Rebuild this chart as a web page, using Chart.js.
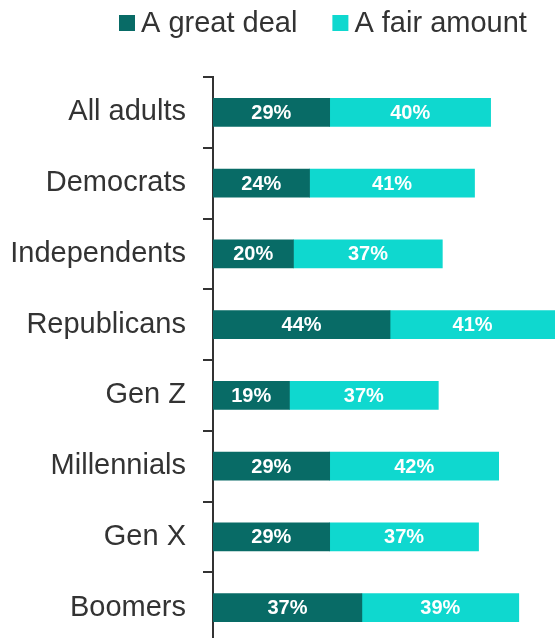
<!DOCTYPE html>
<html>
<head>
<meta charset="utf-8">
<script src="https://cdn.jsdelivr.net/npm/chart.js@4"></script>
<style>
  html, body { margin: 0; padding: 0; background: #fff; overflow: hidden; }
  #wrap { position: relative; width: 555px; height: 643px; }
</style>
</head>
<body>
<div id="wrap"><canvas id="trustChart"></canvas></div>
<script>
const categories = ['All adults', 'Democrats', 'Independents', 'Republicans', 'Gen Z', 'Millennials', 'Gen X', 'Boomers'];
const greatDeal = [29, 24, 20, 44, 19, 29, 29, 37];
const fairAmount = [40, 41, 37, 41, 37, 42, 37, 39];
const seriesNames = ['A great deal', 'A fair amount'];

const FONT = "'Liberation Sans', Arial, sans-serif";
const TEXT = '#333333';

// draws the value inside each bar segment
const barLabels = {
    id: 'barLabels',
    afterDatasetsDraw(chart) {
        const ctx = chart.ctx;
        ctx.save();
        ctx.fillStyle = '#ffffff';
        ctx.font = "bold 20px " + FONT;
        ctx.textAlign = 'center';
        ctx.textBaseline = 'middle';
        chart.data.datasets.forEach((ds, i) => {
            chart.getDatasetMeta(i).data.forEach((bar, j) => {
                const cx = (bar.x + bar.base) / 2;
                ctx.fillText(ds.data[j] + '%', cx, bar.y + 1);
            });
        });
        ctx.restore();
    }
};

// legend row at the top
const topLegend = {
    id: 'topLegend',
    afterDraw(chart) {
        const ctx = chart.ctx;
        ctx.save();
        ctx.font = "29px " + FONT;
        ctx.textBaseline = 'middle';
        let x = 119;
        chart.data.datasets.forEach((ds) => {
            ctx.fillStyle = ds.backgroundColor;
            ctx.fillRect(x, 15, 16, 16);
            ctx.fillStyle = TEXT;
            ctx.fillText(ds.label, x + 22, 24);
            x += 22 + ctx.measureText(ds.label).width + 35;
        });
        ctx.restore();
    }
};

const ctx = document.getElementById('trustChart').getContext('2d');
const trustChart = new Chart(ctx, {
    type: 'bar',
    data: {
        labels: categories,
        datasets: [{
            label: seriesNames[0],
            data: greatDeal,
            backgroundColor: '#086b66',
            barThickness: 28
        }, {
            label: seriesNames[1],
            data: fairAmount,
            backgroundColor: '#0fd8cf',
            barThickness: 28
        }]
    },
    options: {
        indexAxis: 'y',
        responsive: true,
        maintainAspectRatio: false,
        animation: false,
        layout: { padding: { top: 77, left: 0, right: 0, bottom: 0 } },
        plugins: {
            legend: { display: false },
            tooltip: { enabled: false }
        },
        scales: {
            x: {
                stacked: true,
                display: false,
                min: 0,
                max: 85
            },
            y: {
                stacked: true,
                afterFit(scale) {
                    scale.width = 213;
                    // labels sit inside the bands, no extra room needed
                    scale.paddingTop = 0;
                    scale.paddingBottom = 0;
                },
                grid: {
                    offset: true,
                    drawOnChartArea: false,
                    drawTicks: true,
                    tickLength: 10,
                    color: TEXT,
                    lineWidth: 2
                },
                border: { display: true, color: TEXT, width: 2 },
                ticks: {
                    padding: 17,
                    color: TEXT,
                    font: { family: FONT, size: 29 }
                }
            }
        }
    },
    plugins: [barLabels, topLegend]
});
</script>
</body>
</html>
